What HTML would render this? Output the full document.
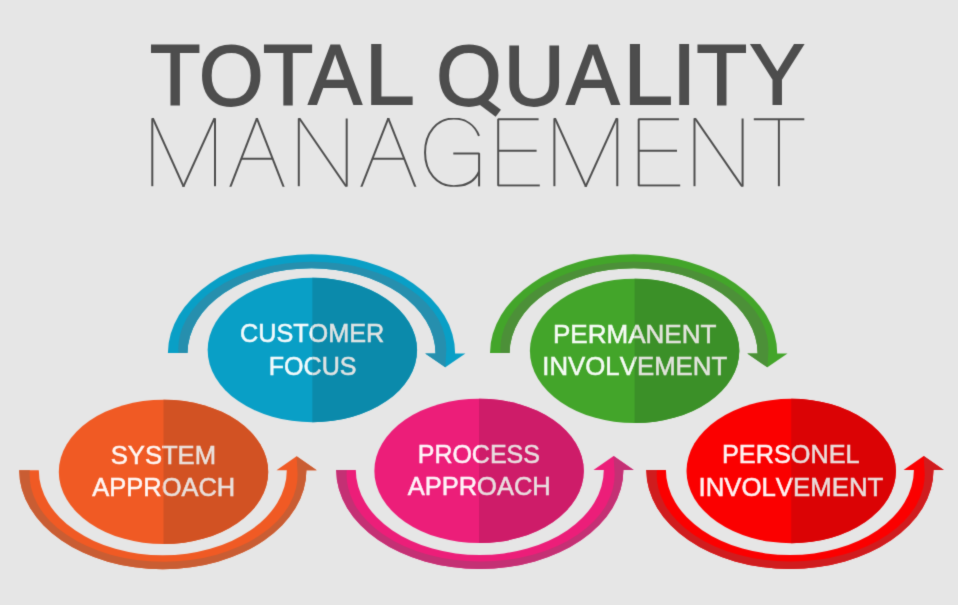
<!DOCTYPE html>
<html><head><meta charset="utf-8"><title>Total Quality Management</title>
<style>
html,body{margin:0;padding:0;background:#e6e6e6;}
body{width:958px;height:605px;overflow:hidden;font-family:"Liberation Sans",sans-serif;}
svg{display:block}
text{font-family:"Liberation Sans",sans-serif}
.lbl{font-size:25.9px;fill:#fff;stroke:#fff;opacity:.95;stroke-width:0.55px;vector-effect:non-scaling-stroke;font-kerning:none}
.lr{fill:#ebe8e6;stroke:#ebe8e6}
.t1 text{font-size:100px;fill:#4d4d4d;stroke:#4d4d4d;stroke-width:1.8px;vector-effect:non-scaling-stroke;stroke-linejoin:miter;font-kerning:none}
.thin{fill:none;stroke:#4e4e4e;stroke-width:2.0;stroke-linecap:butt;stroke-linejoin:bevel}
</style></head><body>
<svg width="958" height="605" viewBox="0 0 958 605">
<defs><filter id="soft" x="0" y="0" width="958" height="605" filterUnits="userSpaceOnUse" color-interpolation-filters="sRGB"><feConvolveMatrix order="3" kernelMatrix="0.0144 0.0912 0.0144 0.0912 0.5776 0.0912 0.0144 0.0912 0.0144" edgeMode="duplicate" preserveAlpha="false"/></filter></defs>
<g filter="url(#soft)">
<rect width="958" height="605" fill="#e6e6e6"/>

<g class="t1"><text transform="translate(149.94 104.10) scale(0.8259 0.8547)">T</text><text transform="translate(199.07 105.00) scale(0.8292 0.8559)">O</text><text transform="translate(262.96 104.10) scale(0.8206 0.8547)">T</text><text transform="translate(308.44 104.10) scale(0.7978 0.8547)">A</text><text transform="translate(364.73 104.10) scale(0.8981 0.8547)">L</text><text transform="translate(436.32 105.00) scale(0.8394 0.8559)">O</text><text transform="translate(503.69 105.00) scale(0.8435 0.8556)">U</text><text transform="translate(566.45 104.10) scale(0.7918 0.8547)">A</text><text transform="translate(623.61 104.10) scale(0.8891 0.8547)">L</text><text transform="translate(672.28 104.10) scale(0.8578 0.8547)">I</text><text transform="translate(696.54 104.10) scale(0.8277 0.8547)">T</text><text transform="translate(749.79 104.10) scale(0.8250 0.8547)">Y</text></g><path d="M480 99.4 L498.3 113.2" stroke="#4d4d4d" stroke-width="8.8" fill="none"/>
<clipPath id="mc"><rect x="140" y="117.9" width="680" height="68.80000000000001"/></clipPath>
<g class="thin" clip-path="url(#mc)"><path d="M152.30 118.40 L152.30 186.30"/><path d="M215.00 118.40 L215.00 186.30"/><path d="M151.37 115.01 L185.03 189.70"/><path d="M215.94 115.01 L181.95 189.70"/><path d="M258.21 115.01 L229.28 189.70"/><path d="M255.57 115.01 L284.72 189.70"/><path d="M241.29 158.70 L272.63 158.70"/><path d="M298.80 118.40 L298.80 186.30"/><path d="M346.70 118.40 L346.70 186.30"/><path d="M297.07 115.01 L348.43 189.70"/><path d="M389.63 115.01 L360.27 189.70"/><path d="M386.96 115.01 L416.44 189.70"/><path d="M372.45 158.70 L404.21 158.70"/><path d="M479.0 135.8 C474.8 125.2 465.8 118.55 453.7 118.55 C437.08 118.55 425.05 132.77 425.05 152.4 C425.05 171.97 437.08 186.15 453.7 186.15 C466.5 186.15 475.2 180.5 479.1 171.5"/><path d="M453.30 153.60 L479.10 153.60 L479.10 186.60"/><path d="M538.60 119.20 L498.20 119.20 L498.20 185.50 L539.80 185.50"/><path d="M498.20 150.70 L536.60 150.70"/><path d="M554.40 118.40 L554.40 186.30"/><path d="M617.30 118.40 L617.30 186.30"/><path d="M553.46 115.01 L587.34 189.70"/><path d="M618.24 115.01 L584.25 189.70"/><path d="M678.90 119.20 L638.70 119.20 L638.70 185.50 L680.20 185.50"/><path d="M638.70 150.70 L677.00 150.70"/><path d="M694.50 118.40 L694.50 186.30"/><path d="M742.60 118.40 L742.60 186.30"/><path d="M692.75 115.01 L744.35 189.70"/><path d="M753.80 119.30 L804.30 119.30"/><path d="M778.90 119.30 L778.90 186.30"/></g>
<path d="M19.20 470.2 A143.6 99.0 0 0 0 306.40 470.2 L316.70 470.2 L296.60 456.2 L276.50 470.2 L286.80 470.2 A124.0 85.1 0 0 1 38.80 470.2 Z" fill="#f05a24"/>
<path d="M19.20 470.2 A143.6 99.0 0 0 0 306.40 470.2 L316.70 470.2 L296.60 456.2 L297.40 470.2 A134.0 86.8 0 1 1 29.80 470.2 Z" fill="#c95d33"/>
<path d="M167.90 353.1 A143.6 99.0 0 0 1 455.10 353.5 L465.40 353.5 L445.30 367.3 L425.20 353.5 L435.50 353.5 A124.0 85.1 0 0 0 187.50 353.1 Z" fill="#099fc6"/>
<path d="M178.50 353.1 A134.0 86.8 0 1 1 446.10 353.5 L445.30 367.3 L425.20 353.5 L435.50 353.5 A124.0 85.1 0 0 0 187.50 353.1 Z" fill="#268fae"/>
<path d="M336.20 470.0 A143.6 99.0 0 0 0 623.40 470.0 L633.70 470.0 L613.60 456.0 L593.50 470.0 L603.80 470.0 A124.0 85.1 0 0 1 355.80 470.0 Z" fill="#ec1e79"/>
<path d="M336.20 470.0 A143.6 99.0 0 0 0 623.40 470.0 L633.70 470.0 L613.60 456.0 L614.40 470.0 A134.0 86.8 0 1 1 346.80 470.0 Z" fill="#c43074"/>
<path d="M490.00 353.1 A143.6 99.0 0 0 1 777.20 353.5 L787.50 353.5 L767.40 367.3 L747.30 353.5 L757.60 353.5 A124.0 85.1 0 0 0 509.60 353.1 Z" fill="#43a52a"/>
<path d="M500.60 353.1 A134.0 86.8 0 1 1 768.20 353.5 L767.40 367.3 L747.30 353.5 L757.60 353.5 A124.0 85.1 0 0 0 509.60 353.1 Z" fill="#4c9038"/>
<path d="M646.30 470.0 A143.6 99.0 0 0 0 933.50 470.0 L943.80 470.0 L923.70 456.0 L903.60 470.0 L913.90 470.0 A124.0 85.1 0 0 1 665.90 470.0 Z" fill="#fb0000"/>
<path d="M646.30 470.0 A143.6 99.0 0 0 0 933.50 470.0 L943.80 470.0 L923.70 456.0 L924.50 470.0 A134.0 86.8 0 1 1 656.90 470.0 Z" fill="#d01c1e"/>
<clipPath id="c0"><ellipse cx="163.5" cy="471.9" rx="104.7" ry="72.2"/></clipPath>
<ellipse cx="163.5" cy="471.9" rx="104.7" ry="72.2" fill="#f05a24"/>
<rect x="163.5" y="398.7" width="106.7" height="146.4" fill="#d25223" clip-path="url(#c0)"/>
<clipPath id="l0"><rect x="0" y="0" width="163.5" height="605"/></clipPath>
<clipPath id="r0"><rect x="163.5" y="0" width="794.5" height="605"/></clipPath>
<g class="lbl" clip-path="url(#l0)"><text transform="translate(110.71 463.62) scale(0.9899 1)">SYSTEM</text><text transform="translate(92.33 496.43) scale(0.9836 1)">APPROACH</text></g>
<g class="lbl lr" clip-path="url(#r0)"><text transform="translate(110.71 463.62) scale(0.9899 1)">SYSTEM</text><text transform="translate(92.33 496.43) scale(0.9836 1)">APPROACH</text></g>
<clipPath id="c1"><ellipse cx="312.35" cy="350.05" rx="104.7" ry="72.2"/></clipPath>
<ellipse cx="312.35" cy="350.05" rx="104.7" ry="72.2" fill="#099fc6"/>
<rect x="312.35" y="276.85" width="106.7" height="146.4" fill="#0b8aab" clip-path="url(#c1)"/>
<clipPath id="l1"><rect x="0" y="0" width="312.35" height="605"/></clipPath>
<clipPath id="r1"><rect x="312.35" y="0" width="645.65" height="605"/></clipPath>
<g class="lbl" clip-path="url(#l1)"><text transform="translate(239.99 341.78) scale(0.9743 1)">CUSTOMER</text><text transform="translate(268.72 374.58) scale(0.9681 1)">FOCUS</text></g>
<g class="lbl lr" clip-path="url(#r1)"><text transform="translate(239.99 341.78) scale(0.9743 1)">CUSTOMER</text><text transform="translate(268.72 374.58) scale(0.9681 1)">FOCUS</text></g>
<clipPath id="c2"><ellipse cx="479.05" cy="470.9" rx="104.7" ry="72.2"/></clipPath>
<ellipse cx="479.05" cy="470.9" rx="104.7" ry="72.2" fill="#ec1e79"/>
<rect x="479.05" y="397.7" width="106.7" height="146.4" fill="#ce1c69" clip-path="url(#c2)"/>
<clipPath id="l2"><rect x="0" y="0" width="479.05" height="605"/></clipPath>
<clipPath id="r2"><rect x="479.05" y="0" width="478.95" height="605"/></clipPath>
<g class="lbl" clip-path="url(#l2)"><text transform="translate(417.72 462.62) scale(0.9652 1)">PROCESS</text><text transform="translate(407.63 495.43) scale(0.9850 1)">APPROACH</text></g>
<g class="lbl lr" clip-path="url(#r2)"><text transform="translate(417.72 462.62) scale(0.9652 1)">PROCESS</text><text transform="translate(407.63 495.43) scale(0.9850 1)">APPROACH</text></g>
<clipPath id="c3"><ellipse cx="634.6" cy="350.9" rx="104.7" ry="72.2"/></clipPath>
<ellipse cx="634.6" cy="350.9" rx="104.7" ry="72.2" fill="#43a52a"/>
<rect x="634.6" y="277.7" width="106.7" height="146.4" fill="#3b9028" clip-path="url(#c3)"/>
<clipPath id="l3"><rect x="0" y="0" width="634.6" height="605"/></clipPath>
<clipPath id="r3"><rect x="634.6" y="0" width="323.4" height="605"/></clipPath>
<g class="lbl" clip-path="url(#l3)"><text transform="translate(552.94 342.62) scale(1.0060 1)">PERMANENT</text><text transform="translate(542.29 375.43) scale(0.9966 1)">INVOLVEMENT</text></g>
<g class="lbl lr" clip-path="url(#r3)"><text transform="translate(552.94 342.62) scale(1.0060 1)">PERMANENT</text><text transform="translate(542.29 375.43) scale(0.9966 1)">INVOLVEMENT</text></g>
<clipPath id="c4"><ellipse cx="791.2" cy="471.0" rx="104.7" ry="72.2"/></clipPath>
<ellipse cx="791.2" cy="471.0" rx="104.7" ry="72.2" fill="#fb0000"/>
<rect x="791.2" y="397.8" width="106.7" height="146.4" fill="#db0305" clip-path="url(#c4)"/>
<clipPath id="l4"><rect x="0" y="0" width="791.2" height="605"/></clipPath>
<clipPath id="r4"><rect x="791.2" y="0" width="166.79999999999995" height="605"/></clipPath>
<g class="lbl" clip-path="url(#l4)"><text transform="translate(722.00 462.73) scale(0.9759 1)">PERSONEL</text><text transform="translate(698.49 495.53) scale(0.9961 1)">INVOLVEMENT</text></g>
<g class="lbl lr" clip-path="url(#r4)"><text transform="translate(722.00 462.73) scale(0.9759 1)">PERSONEL</text><text transform="translate(698.49 495.53) scale(0.9961 1)">INVOLVEMENT</text></g>
</g></svg></body></html>
